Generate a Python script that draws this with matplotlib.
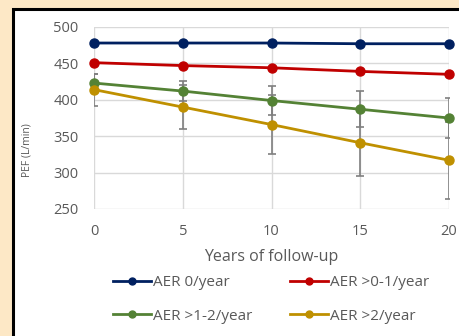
import matplotlib.pyplot as plt
from matplotlib.patches import Rectangle
from matplotlib.lines import Line2D

years = [0, 5, 10, 15, 20]
aer_0 = [478, 478, 478, 477, 477]
aer_0_1 = [451, 447, 444, 439, 435]
aer_1_2 = [423, 412, 399, 387, 375]
aer_2 = [414, 390, 366, 341, 317]
err_1_2 = [12, 14, 20, 25, 28]
err_2 = [22, 30, 40, 45, 53]

labels = ["AER 0/year", "AER >0-1/year", "AER >1-2/year", "AER >2/year"]
colors = ["#002060", "#C00000", "#548235", "#BF9000"]
tick_color = "#595959"

fig = plt.figure(figsize=(4.6, 3.36), dpi=100)
fig.patch.set_facecolor("#FDE8C6")

# white panel with black frame
panel = Rectangle((13 / 460, -0.05), 1.0, 1 - 9 / 336 + 0.05, transform=fig.transFigure,
                  facecolor="white", edgecolor="black", linewidth=2.2, zorder=-1)
fig.patches.append(panel)

ax = fig.add_axes([94 / 460, 1 - 209 / 336, 355 / 460, 182 / 336])
ax.set_facecolor("white")
ax.set_zorder(1)

ax.errorbar(years, aer_1_2, yerr=err_1_2, fmt="none", ecolor="#7f7f7f",
            elinewidth=1.2, capsize=3, capthick=1.2, zorder=2)
ax.errorbar(years, aer_2, yerr=err_2, fmt="none", ecolor="#7f7f7f",
            elinewidth=1.2, capsize=3, capthick=1.2, zorder=2)

series = [aer_0, aer_0_1, aer_1_2, aer_2]
for vals, col, lab in zip(series, colors, labels):
    ax.plot(years, vals, color=col, linewidth=2, marker="o", markersize=6.5,
            label=lab, zorder=3, clip_on=False)

ax.set_xlim(0, 20)
ax.set_ylim(250, 500)
ax.set_xticks(years)
ax.set_yticks(range(250, 501, 50))
ax.grid(True, color="#d9d9d9", linewidth=1)
ax.set_axisbelow(True)
for s in ax.spines.values():
    s.set_visible(False)
ax.tick_params(length=0, colors=tick_color, labelsize=10.5)
ax.tick_params(axis="y", pad=11)
ax.tick_params(axis="x", pad=11)
for t in ax.get_yticklabels() + ax.get_xticklabels():
    t.set_fontfamily("Open Sans")

ax.set_xlabel("Years of follow-up", fontsize=11.5, color=tick_color,
              family="Open Sans", labelpad=7)
fig.text(27 / 460, 1 - 150 / 336, "PEF (L/min)", rotation=90, fontsize=7.5,
         color=tick_color, family="Open Sans", ha="center", va="center")

# legend fills row by row in the original
order = [0, 2, 1, 3]
handles = [Line2D([0], [0], color=colors[i], linewidth=2, marker="o", markersize=5)
           for i in order]
fig.legend(handles, [labels[i] for i in order], loc="center",
           bbox_to_anchor=(271 / 460, 1 - 299.5 / 336),
           ncol=2, frameon=False, handlelength=2.5, handletextpad=0.12,
           columnspacing=2.5, labelspacing=1.2, prop={"family": "Open Sans", "size": 11},
           labelcolor=tick_color)

fig.savefig("out.png", dpi=100, facecolor=fig.get_facecolor())
